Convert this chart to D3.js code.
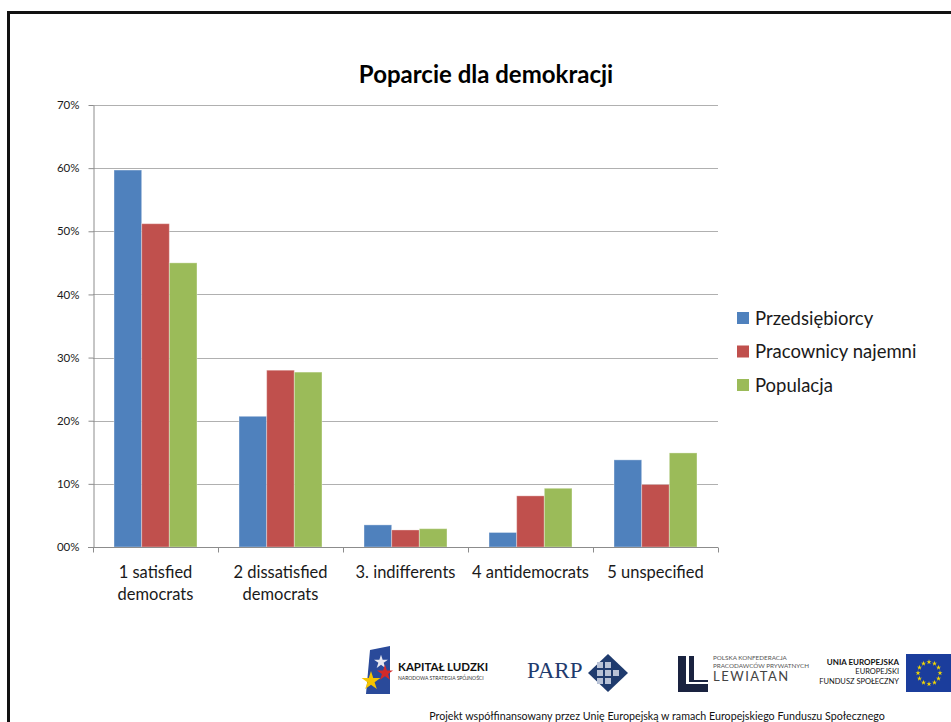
<!DOCTYPE html>
<html>
<head>
<meta charset="utf-8">
<script src="https://cdn.jsdelivr.net/npm/d3@7"></script>
<style>
  body { margin: 0; background: #fff; }
  svg { display: block; }
</style>
</head>
<body>
<div id="chart"></div>
<script>
// chart data
var categories = ['1 satisfied democrats', '2 dissatisfied democrats', '3. indifferents', '4 antidemocrats', '5 unspecified'];
var categoryLines = [['1 satisfied', 'democrats'], ['2 dissatisfied', 'democrats'], ['3. indifferents'], ['4 antidemocrats'], ['5 unspecified']];
var seriesNames = ['Przedsiębiorcy', 'Pracownicy najemni', 'Populacja'];
var przedsiebiorcy = [0.597, 0.207, 0.035, 0.023, 0.138];
var pracownicy = [0.512, 0.280, 0.027, 0.081, 0.099];
var populacja = [0.450, 0.277, 0.029, 0.093, 0.149];
var yTicks = [0, 0.1, 0.2, 0.3, 0.4, 0.5, 0.6, 0.7];
var yTickLabels = ['00%', '10%', '20%', '30%', '40%', '50%', '60%', '70%'];
var colors = ['#4f81bd', '#c0504d', '#9bbb59'];

var W = 951, H = 722;
var font = 'Lato, "Open Sans", sans-serif';

var svg = d3.select('#chart').append('svg')
  .attr('width', W)
  .attr('height', H);

// slide frame
svg.append('path')
  .attr('d', 'M8.5,722 L8.5,12.5 L951,12.5')
  .attr('fill', 'none')
  .attr('stroke', '#111')
  .attr('stroke-width', 3);

// scales
var x = d3.scaleBand()
  .domain(categories)
  .range([93, 718]);

var x1 = d3.scaleBand()
  .domain(seriesNames)
  .range([0, x.bandwidth()])
  .paddingOuter(0.76);

var y = d3.scaleLinear()
  .domain([0, 0.7])
  .range([547, 105]);

// gridlines
svg.append('g')
  .selectAll('line')
  .data(yTicks.slice(1))
  .enter()
  .append('line')
    .attr('x1', 93)
    .attr('x2', 718)
    .attr('y1', function(d) { return Math.round(y(d)) + 0.5; })
    .attr('y2', function(d) { return Math.round(y(d)) + 0.5; })
    .attr('stroke', '#b0b0b0')
    .attr('stroke-width', 1);

// Y axis
var yAxis = svg.append('g')
  .attr('transform', 'translate(93.5,0)')
  .call(d3.axisLeft(y).tickValues(yTicks).tickSize(5).tickSizeOuter(0)
    .tickFormat(function(d, i) { return yTickLabels[i]; }));
yAxis.select('.domain').attr('stroke', '#8c8c8c');
yAxis.selectAll('.tick line').attr('stroke', '#8c8c8c');
yAxis.selectAll('text')
  .attr('x', -14)
  .style('font-family', font)
  .style('font-size', '11.5px')
  .attr('fill', '#1a1a1a');

// bars
var series = [przedsiebiorcy, pracownicy, populacja];
var rows = [];
categories.forEach(function(c, i) {
  seriesNames.forEach(function(s, j) {
    rows.push({cat: c, name: s, value: series[j][i], color: colors[j]});
  });
});

svg.append('g')
  .selectAll('rect')
  .data(rows)
  .enter()
  .append('rect')
    .attr('x', function(d) { return x(d.cat) + x1(d.name); })
    .attr('y', function(d) { return y(d.value); })
    .attr('width', x1.bandwidth())
    .attr('height', function(d) { return y(0) - y(d.value); })
    .attr('fill', function(d) { return d.color; })
    .attr('stroke', '#ffffff')
    .attr('stroke-opacity', 0.35)
    .attr('stroke-width', 1);

// X axis
var xAxis = svg.append('g')
  .attr('transform', 'translate(0,547.5)');
xAxis.append('line')
  .attr('x1', 88).attr('x2', 718)
  .attr('stroke', '#8c8c8c');
xAxis.selectAll('line.tk')
  .data(categories.concat(['end']))
  .enter()
  .append('line')
    .attr('class', 'tk')
    .attr('x1', function(d, i) { return Math.round(i < categories.length ? x(d) : x.range()[1]) + 0.5; })
    .attr('x2', function(d, i) { return Math.round(i < categories.length ? x(d) : x.range()[1]) + 0.5; })
    .attr('y1', 0).attr('y2', 5)
    .attr('stroke', '#8c8c8c');

var xl = svg.append('g')
  .selectAll('text')
  .data(categories)
  .enter()
  .append('text')
    .attr('x', function(d) { return x(d) + x.bandwidth() / 2; })
    .attr('y', 578)
    .attr('text-anchor', 'middle')
    .style('font-family', font)
    .style('font-size', '16.5px')
    .attr('fill', '#1a1a1a');
xl.each(function(d, i) {
  var t = d3.select(this);
  categoryLines[i].forEach(function(line, k) {
    t.append('tspan')
      .attr('x', x(d) + x.bandwidth() / 2)
      .attr('dy', k === 0 ? 0 : 22)
      .text(line);
  });
});

// title
svg.append('text')
  .attr('x', 486)
  .attr('y', 83)
  .attr('text-anchor', 'middle')
  .style('font-family', font)
  .style('font-size', '24px')
  .style('font-weight', 'bold')
  .attr('fill', '#000')
  .text('Poparcie dla demokracji');

// legend
var legend = svg.append('g')
  .selectAll('g')
  .data(seriesNames)
  .enter()
  .append('g')
    .attr('transform', function(d, i) { return 'translate(737,' + (318 + i * 33.5) + ')'; });
legend.append('rect')
  .attr('x', 0).attr('y', -6)
  .attr('width', 12).attr('height', 12)
  .attr('fill', function(d, i) { return colors[i]; });
legend.append('text')
  .attr('x', 18)
  .attr('y', 6.5)
  .style('font-family', font)
  .style('font-size', '18.5px')
  .attr('fill', '#1a1a1a')
  .text(function(d) { return d; });

// ______________
// Footer logos
// ______________

var logos = svg.append('g');

// Kapitał Ludzki
logos.append('path')
  .attr('d', 'M370,650 L390,646 L390,694 L366,694 Z')
  .attr('fill', '#2a4a9a');
var star = d3.symbol().type(d3.symbolStar);
[[381, 662, '#e8e8f0', 60], [385, 673, '#d42a2a', 80], [371, 681, '#f5c400', 110]].forEach(function(s) {
  logos.append('path')
    .attr('d', star.size(s[3])())
    .attr('transform', 'translate(' + s[0] + ',' + s[1] + ')')
    .attr('fill', s[2]);
});
logos.append('text')
  .attr('x', 398).attr('y', 671)
  .style('font-family', font).style('font-size', '11.5px').style('font-weight', 'bold')
  .attr('fill', '#111')
  .text('KAPITAŁ LUDZKI');
logos.append('text')
  .attr('x', 398).attr('y', 680)
  .style('font-family', font).style('font-size', '5px')
  .attr('fill', '#333')
  .text('NARODOWA STRATEGIA SPÓJNOŚCI');

// PARP
logos.append('text')
  .attr('x', 527).attr('y', 678)
  .style('font-family', '"Liberation Serif", serif').style('font-size', '23px')
  .attr('fill', '#1f3b6e')
  .text('PARP');
logos.append('path')
  .attr('d', 'M608,654 L628,673 L608,692 L588,673 Z')
  .attr('fill', '#1f3b6e');
[[600, 665], [608, 665], [600, 673], [608, 673], [600, 681], [608, 681], [616, 673]].forEach(function(c) {
  logos.append('rect')
    .attr('x', c[0] - 3).attr('y', c[1] - 3)
    .attr('width', 6).attr('height', 6)
    .attr('fill', '#b8c2d6');
});

// Lewiatan
logos.append('path')
  .attr('d', 'M678,656 L686,656 L686,684 L708,684 L708,692 L678,692 Z M689,656 L694,656 L694,680 L708,680 L708,682 L689,682 Z')
  .attr('fill', '#1a2340');
logos.append('text')
  .attr('x', 713).attr('y', 660)
  .style('font-family', font).style('font-size', '6.3px')
  .attr('fill', '#555')
  .text('POLSKA KONFEDERACJA');
logos.append('text')
  .attr('x', 713).attr('y', 668)
  .style('font-family', font).style('font-size', '6.3px')
  .attr('fill', '#555')
  .text('PRACODAWCÓW PRYWATNYCH');
logos.append('text')
  .attr('x', 713).attr('y', 681)
  .style('font-family', font).style('font-size', '13px')
  .style('letter-spacing', '1.5px')
  .attr('fill', '#444')
  .text('LEWIATAN');

// Unia Europejska
[['UNIA EUROPEJSKA', 665, '8px', 'bold'], ['EUROPEJSKI', 674, '7.5px', 'normal'], ['FUNDUSZ SPOŁECZNY', 684, '7.5px', 'normal']].forEach(function(t) {
  logos.append('text')
    .attr('x', 899).attr('y', t[1])
    .attr('text-anchor', 'end')
    .style('font-family', font).style('font-size', t[2]).style('font-weight', t[3])
    .attr('fill', '#111')
    .text(t[0]);
});
logos.append('rect')
  .attr('x', 906).attr('y', 654)
  .attr('width', 45).attr('height', 38)
  .attr('fill', '#1b3d9c');
d3.range(12).forEach(function(i) {
  var a = i * Math.PI / 6;
  logos.append('path')
    .attr('d', star.size(8)())
    .attr('transform', 'translate(' + (929 + 11 * Math.cos(a)) + ',' + (673 + 11 * Math.sin(a)) + ')')
    .attr('fill', '#f5d800');
});

// footer note
svg.append('text')
  .attr('x', 657)
  .attr('y', 720)
  .attr('text-anchor', 'middle')
  .style('font-family', font)
  .style('font-size', '10.7px')
  .attr('fill', '#111')
  .text('Projekt współfinansowany przez Unię Europejską w ramach Europejskiego Funduszu Społecznego');
</script>
</body>
</html>
